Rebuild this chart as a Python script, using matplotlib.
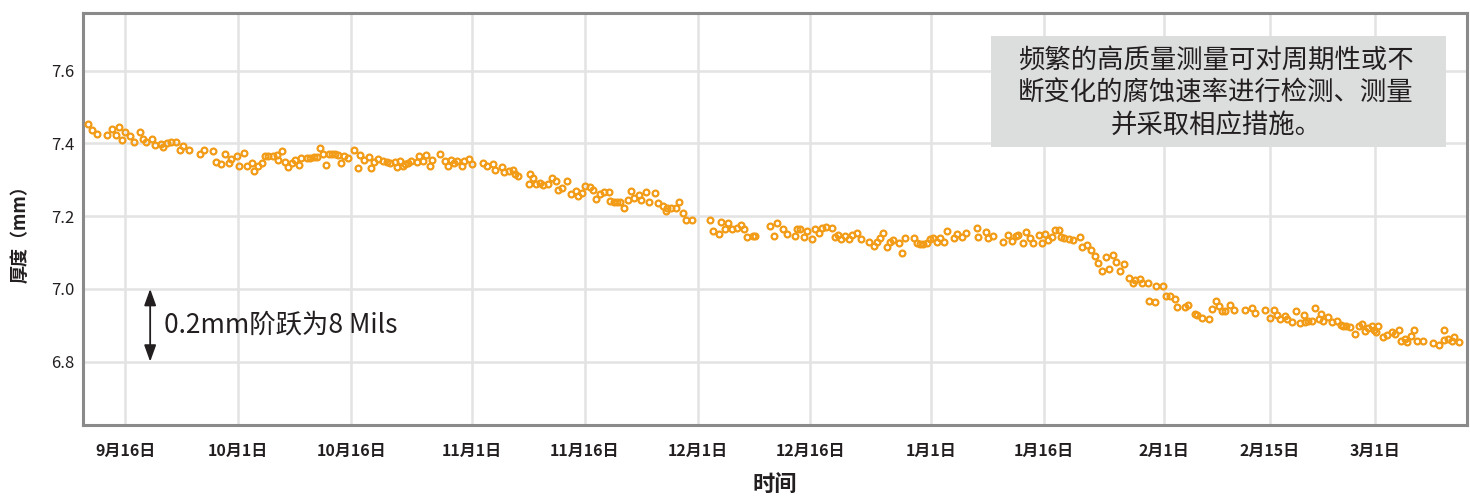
import numpy as np
import pandas as pd
import matplotlib
matplotlib.use("Agg")
import matplotlib.pyplot as plt
from matplotlib.patches import Rectangle

plt.rcParams['font.family'] = ['Noto Sans CJK SC', 'DejaVu Sans']

# ---------------- data ----------------
base_date = "2021-09-16"
day_offset = [
    -4.9, -4.4, -3.8, -2.4, -1.8, -1.3, -0.9, -0.4, 0.0, 0.6, 1.1, 1.9, 2.3, 2.7, 3.6, 3.9, 4.7, 5.0, 5.6, 6.1,
    6.7, 7.2, 7.7, 8.4, 9.9, 10.5, 11.7, 12.1, 12.7, 13.2, 13.8, 14.1, 14.8, 15.1, 15.8, 16.2, 16.8, 17.1, 17.6, 18.1,
    18.6, 19.0, 19.6, 20.1, 20.3, 20.8, 21.2, 21.6, 22.1, 22.6, 23.1, 23.4, 24.1, 24.5, 25.0, 25.4, 25.8, 26.2, 26.7, 27.0,
    27.4, 27.8, 28.3, 28.6, 29.0, 29.6, 30.4, 30.9, 31.2, 31.7, 32.3, 32.6, 33.0, 33.6, 34.2, 34.7, 35.2, 35.8, 36.1, 36.5,
    36.9, 37.2, 37.6, 38.0, 38.7, 39.0, 39.6, 40.0, 40.5, 40.7, 41.8, 42.4, 42.8, 43.3, 43.7, 44.1, 44.7, 45.0, 45.7, 46.0,
    47.5, 48.0, 48.8, 49.1, 50.0, 50.3, 50.9, 51.5, 51.7, 52.1, 53.7, 53.6, 54.2, 54.6, 55.1, 55.5, 56.2, 56.7, 57.2, 57.5,
    58.0, 58.7, 59.2, 59.8, 60.1, 60.7, 61.1, 61.7, 62.1, 62.5, 63.1, 63.6, 64.2, 64.4, 64.9, 65.3, 65.7, 66.2, 66.8, 67.2,
    67.6, 68.2, 68.5, 69.1, 69.6, 70.3, 70.7, 71.4, 71.8, 72.0, 72.5, 73.2, 73.6, 74.1, 74.5, 75.2, 77.7, 78.1, 78.8, 79.1,
    79.6, 80.1, 80.6, 81.2, 81.8, 82.2, 82.6, 83.4, 83.7, 85.6, 86.1, 86.5, 87.4, 87.9, 89.0, 89.2, 89.6, 90.1, 90.6, 91.2,
    91.6, 92.1, 92.5, 93.0, 93.8, 94.2, 94.6, 95.1, 95.6, 96.1, 96.5, 97.2, 97.7, 98.8, 99.4, 99.8, 100.3, 100.7, 101.2, 101.6,
    102.0, 102.7, 103.1, 103.6, 104.7, 105.1, 105.6, 106.0, 106.5, 106.9, 107.3, 107.8, 108.2, 108.7, 109.1, 110.0, 110.4, 111.1, 111.6, 113.1,
    113.3, 114.3, 114.6, 115.3, 116.6, 117.2, 117.8, 118.3, 118.6, 119.2, 119.6, 120.2, 120.6, 121.3, 121.8, 122.2, 122.6, 123.1, 123.5, 124.0,
    124.3, 124.7, 125.3, 125.9, 126.8, 127.1, 127.7, 128.3, 128.8, 129.2, 129.7, 130.2, 130.7, 131.2, 131.6, 132.1, 132.6, 133.3, 133.8, 134.1,
    134.8, 135.1, 135.8, 136.0, 136.7, 136.9, 137.8, 138.2, 138.8, 139.4, 139.7, 140.8, 141.2, 142.1, 142.4, 143.0, 143.9, 144.3, 144.9, 145.3,
    145.6, 146.1, 146.7, 147.3, 148.7, 149.6, 150.1, 151.4, 152.0, 152.6, 152.9, 153.4, 154.0, 154.3, 154.9, 155.5, 156.0, 156.5, 156.7, 157.1,
    157.6, 158.0, 158.5, 158.8, 159.1, 159.8, 160.3, 161.0, 161.4, 161.7, 162.1, 162.7, 163.3, 163.8, 164.3, 164.7, 165.1, 165.6, 165.9, 166.1,
    166.4, 167.0, 167.6, 168.2, 168.7, 169.2, 169.5, 169.9, 170.2, 170.7, 171.2, 171.6, 172.4, 173.7, 174.5, 175.1, 175.2, 175.7, 176.2, 176.5,
    177.1,
]
thickness_mm = [
    7.453, 7.436, 7.425, 7.423, 7.439, 7.423, 7.446, 7.408, 7.431, 7.419, 7.404, 7.431, 7.411, 7.405, 7.411, 7.395, 7.398, 7.390, 7.402, 7.405,
    7.405, 7.381, 7.393, 7.383, 7.370, 7.381, 7.380, 7.349, 7.344, 7.370, 7.347, 7.356, 7.365, 7.339, 7.374, 7.339, 7.347, 7.324, 7.337, 7.347,
    7.365, 7.365, 7.365, 7.368, 7.353, 7.380, 7.349, 7.334, 7.347, 7.354, 7.340, 7.359, 7.359, 7.360, 7.362, 7.362, 7.388, 7.370, 7.340, 7.372,
    7.372, 7.370, 7.367, 7.347, 7.365, 7.360, 7.381, 7.333, 7.367, 7.354, 7.363, 7.331, 7.349, 7.358, 7.351, 7.349, 7.347, 7.349, 7.336, 7.351,
    7.337, 7.342, 7.347, 7.351, 7.349, 7.365, 7.351, 7.368, 7.337, 7.354, 7.370, 7.351, 7.339, 7.354, 7.345, 7.351, 7.339, 7.351, 7.356, 7.342,
    7.347, 7.337, 7.342, 7.328, 7.336, 7.321, 7.323, 7.326, 7.317, 7.310, 7.316, 7.289, 7.305, 7.289, 7.291, 7.285, 7.287, 7.305, 7.296, 7.271,
    7.277, 7.296, 7.262, 7.268, 7.254, 7.264, 7.284, 7.280, 7.271, 7.247, 7.262, 7.265, 7.266, 7.242, 7.240, 7.240, 7.240, 7.222, 7.245, 7.268,
    7.250, 7.259, 7.245, 7.266, 7.240, 7.264, 7.236, 7.227, 7.213, 7.222, 7.222, 7.222, 7.240, 7.208, 7.188, 7.190, 7.188, 7.160, 7.151, 7.185,
    7.164, 7.182, 7.164, 7.167, 7.176, 7.164, 7.142, 7.146, 7.146, 7.174, 7.146, 7.182, 7.165, 7.150, 7.146, 7.164, 7.164, 7.142, 7.159, 7.137,
    7.164, 7.153, 7.167, 7.171, 7.167, 7.142, 7.148, 7.136, 7.144, 7.136, 7.148, 7.153, 7.136, 7.128, 7.119, 7.128, 7.139, 7.153, 7.116, 7.130,
    7.134, 7.127, 7.099, 7.139, 7.139, 7.127, 7.123, 7.123, 7.127, 7.136, 7.139, 7.130, 7.139, 7.128, 7.160, 7.139, 7.151, 7.142, 7.153, 7.167,
    7.142, 7.155, 7.141, 7.144, 7.130, 7.148, 7.133, 7.146, 7.148, 7.125, 7.157, 7.141, 7.125, 7.148, 7.127, 7.150, 7.134, 7.142, 7.162, 7.162,
    7.142, 7.139, 7.137, 7.134, 7.142, 7.116, 7.121, 7.107, 7.090, 7.070, 7.050, 7.088, 7.056, 7.093, 7.073, 7.050, 7.068, 7.031, 7.017, 7.024,
    7.027, 7.015, 7.017, 6.966, 6.964, 7.008, 7.008, 6.980, 6.980, 6.973, 6.950, 6.950, 6.957, 6.932, 6.927, 6.920, 6.916, 6.946, 6.967, 6.952,
    6.939, 6.939, 6.955, 6.943, 6.941, 6.948, 6.934, 6.943, 6.920, 6.941, 6.927, 6.918, 6.925, 6.916, 6.908, 6.939, 6.907, 6.929, 6.910, 6.913,
    6.913, 6.947, 6.918, 6.932, 6.913, 6.922, 6.908, 6.913, 6.902, 6.897, 6.897, 6.895, 6.876, 6.897, 6.904, 6.883, 6.892, 6.899, 6.888, 6.881,
    6.897, 6.867, 6.874, 6.881, 6.876, 6.886, 6.858, 6.863, 6.853, 6.870, 6.887, 6.858, 6.858, 6.850, 6.847, 6.886, 6.860, 6.863, 6.858, 6.869,
    6.855,
]
tick_dates = ["2021-09-16", "2021-10-01", "2021-10-16", "2021-11-01", "2021-11-16", "2021-12-01",
              "2021-12-16", "2022-01-01", "2022-01-16", "2022-02-01", "2022-02-15", "2022-03-01"]
tick_labels = ["9月16日", "10月1日", "10月16日", "11月1日", "11月16日", "12月1日",
               "12月16日", "1月1日", "1月16日", "2月1日", "2月15日", "3月1日"]
y_ticks = [6.8, 7.0, 7.2, 7.4, 7.6]
y_tick_labels = ["6.8", "7.0", "7.2", "7.4", "7.6"]
step_range = [7.0, 6.8]
step_text = "0.2mm阶跃为8 Mils"
note_lines = ["频繁的高质量测量可对周期性或不", "断变化的腐蚀速率进行检测、测量", "并采取相应措施。"]
x_title = "时间"
y_title = "厚度（mm）"

# ---------------- figure ----------------
W, H = 1470, 496
fig = plt.figure(figsize=(W / 100, H / 100), dpi=100)
ax = fig.add_axes([83 / W, 1 - 425 / H, (1467 - 83) / W, (425 - 12.7) / H])

base = pd.Timestamp(base_date)
x = base + pd.to_timedelta(day_offset, unit="D")

text_col = "#231f20"
orange = "#f29b16"

ax.plot(x, thickness_mm, linestyle="none", marker="o", markersize=4.2,
        markerfacecolor="none", markeredgecolor=orange, markeredgewidth=1.6, zorder=3)

ax.set_xlim(base - pd.Timedelta(days=5.62), base + pd.Timedelta(days=178.2))
ax.set_ylim(6.626, 7.759)

ax.set_xticks(pd.to_datetime(tick_dates))
ax.set_xticklabels(tick_labels, fontsize=11.5, fontweight="bold", color=text_col)
ax.set_yticks(y_ticks)
ax.set_yticklabels(y_tick_labels, fontsize=12, color=text_col)
ax.tick_params(axis="x", length=0, pad=13)
ax.tick_params(axis="y", length=0, pad=6)

ax.grid(True, color="#e3e3e3", linewidth=1.8, zorder=0)
ax.set_axisbelow(True)
for s in ax.spines.values():
    s.set_color("#8a8a8a")
    s.set_linewidth(2.2)

# step arrow + text
arrow_x = base + pd.Timedelta(days=3.3)
ax.annotate("", xy=(arrow_x, step_range[1]), xytext=(arrow_x, step_range[0]),
            arrowprops=dict(arrowstyle="<|-|>,head_length=0.5,head_width=0.18", color=text_col, lw=1.3,
                            mutation_scale=20, shrinkA=0, shrinkB=0), zorder=4)
ax.text(base + pd.Timedelta(days=5.2), (step_range[0] + step_range[1]) / 2, step_text,
        fontsize=19, color=text_col, ha="left", va="center", zorder=4)

# note box
bx0, bx1, by0, by1 = 991, 1446, 35.7, 147.3
fig.patches.append(Rectangle((bx0 / W, 1 - by1 / H), (bx1 - bx0) / W, (by1 - by0) / H,
                             transform=fig.transFigure, facecolor="#dcdddd",
                             edgecolor="none", zorder=5))
for i, line in enumerate(note_lines):
    fig.text(1216 / W, 1 - (60.5 + 32.5 * i) / H, line, fontsize=19, color=text_col,
             fontweight="medium", ha="center", va="center", zorder=6)

# axis titles
fig.text(775 / W, 1 - 484 / H, x_title, fontsize=16, fontweight="bold",
         color=text_col, ha="center", va="center")
fig.text(20 / W, 1 - 230 / H, y_title, fontsize=13, fontweight="bold",
         color=text_col, ha="center", va="center", rotation=90)

fig.savefig("out.png", dpi=100)
